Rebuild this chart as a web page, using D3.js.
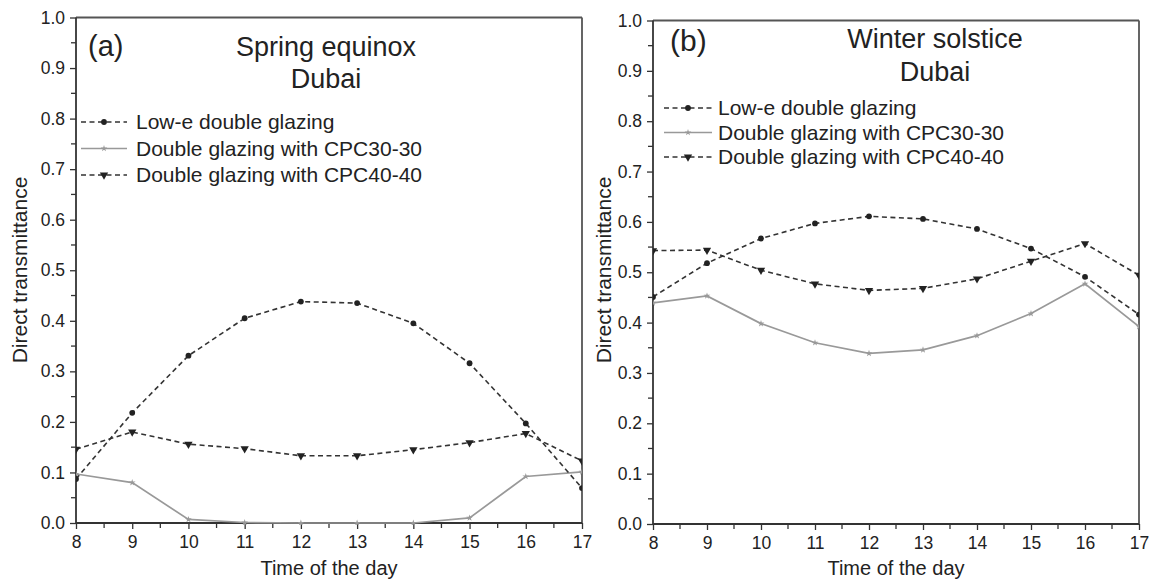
<!DOCTYPE html>
<html><head><meta charset="utf-8">
<script src="https://cdn.jsdelivr.net/npm/d3@7"></script>
<style>body{margin:0;background:#fff}svg{display:block}text{font-family:"Liberation Sans",Arial,sans-serif;fill:#222}</style>
</head><body><svg id="c" width="1152" height="579"></svg>
<script>
const hours = [8, 9, 10, 11, 12, 13, 14, 15, 16, 17];
const seriesNames = ["Low-e double glazing", "Double glazing with CPC30-30", "Double glazing with CPC40-40"];
const springLowE  = [0.087, 0.218, 0.331, 0.405, 0.438, 0.435, 0.395, 0.316, 0.197, 0.069];
const springCPC30 = [0.097, 0.080, 0.007, 0.001, 0.000, 0.000, 0.000, 0.010, 0.092, 0.101];
const springCPC40 = [0.146, 0.180, 0.156, 0.147, 0.133, 0.133, 0.145, 0.159, 0.177, 0.123];
const winterLowE  = [0.451, 0.518, 0.567, 0.597, 0.611, 0.606, 0.586, 0.547, 0.491, 0.416];
const winterCPC30 = [0.439, 0.453, 0.398, 0.360, 0.339, 0.346, 0.374, 0.418, 0.477, 0.392];
const winterCPC40 = [0.543, 0.544, 0.504, 0.477, 0.464, 0.468, 0.487, 0.522, 0.557, 0.494];
const yTicks = [0, 0.1, 0.2, 0.3, 0.4, 0.5, 0.6, 0.7, 0.8, 0.9, 1.0];
const xTicks = hours;
const panelLabels = ["(a)", "(b)"];
const panelTitles = [["Spring equinox", "Dubai"], ["Winter solstice", "Dubai"]];
const xTitle = "Time of the day";
const yTitle = "Direct transmittance";

const svg = d3.select("#c");

const panels = [
  {x0: 76, x1: 582, y0: 17.5, y1: 523, data: [springLowE, springCPC30, springCPC40],
   lab: [88, 56], title: [326, 56, 88], leg: [81, 127, 136, 122, 26.5], yt: 20, fs: 21, tfs: 27, lfs: 29},
  {x0: 653, x1: 1139, y0: 20.5, y1: 524, data: [winterLowE, winterCPC30, winterCPC40],
   lab: [670, 51], title: [935, 48, 81], leg: [664, 712, 718, 108, 24.5], yt: 604, fs: 21, tfs: 27, lfs: 30}
];

const styles = [
  {stroke: "#333", dash: "5,3.5", width: 1.6, marker: "circle"},
  {stroke: "#999", dash: null, width: 1.7, marker: "star"},
  {stroke: "#333", dash: "5,3.5", width: 1.6, marker: "tri"}
];

function drawMarker(g, type, x, y) {
  if (type === "circle") {
    g.append("circle").attr("cx", x).attr("cy", y).attr("r", 2.9).attr("fill", "#222");
  } else if (type === "tri") {
    g.append("path").attr("d", d3.symbol(d3.symbolTriangle, 30)()).attr("transform", `translate(${x},${y}) rotate(180)`).attr("fill", "#222");
  } else {
    g.append("path").attr("d", d3.symbol(d3.symbolStar, 14)()).attr("transform", `translate(${x},${y})`).attr("fill", "#999");
  }
}

panels.forEach((p, pi) => {
  const x = d3.scaleLinear().domain([8, 17]).range([p.x0, p.x1]);
  const y = d3.scaleLinear().domain([0, 1]).range([p.y1, p.y0]);
  const g = svg.append("g");

  const clipId = "clip" + pi;
  svg.append("clipPath").attr("id", clipId).append("rect")
    .attr("x", p.x0).attr("y", p.y0 - 2).attr("width", p.x1 - p.x0).attr("height", p.y1 - p.y0 + 4);

  g.append("line").attr("x1", p.x0).attr("x2", p.x1).attr("y1", p.y0).attr("y2", p.y0).attr("stroke", "#555").attr("stroke-width", 1.8);
  g.append("line").attr("x1", p.x1).attr("x2", p.x1).attr("y1", p.y0).attr("y2", p.y1).attr("stroke", "#555").attr("stroke-width", 1.8);

  const yMinor = d3.range(0.05, 1, 0.1);
  const xMinor = d3.range(8.5, 17, 1);
  g.selectAll(".ym").data(yMinor).join("line").attr("x1", p.x0 - 5).attr("x2", p.x0).attr("y1", d => y(d)).attr("y2", d => y(d)).attr("stroke", "#333").attr("stroke-width", 1.3);
  g.selectAll(".xm").data(xMinor).join("line").attr("y1", p.y1).attr("y2", p.y1 + 5).attr("x1", d => x(d)).attr("x2", d => x(d)).attr("stroke", "#333").attr("stroke-width", 1.3);

  const yAxis = d3.axisLeft(y).tickValues(yTicks).tickFormat(d3.format(".1f")).tickSize(6).tickPadding(5);
  const ya = g.append("g").attr("transform", `translate(${p.x0},0)`).call(yAxis);
  const xAxis = d3.axisBottom(x).tickValues(xTicks).tickFormat(d3.format("d")).tickSize(6).tickPadding(7);
  const xa = g.append("g").attr("transform", `translate(0,${p.y1})`).call(xAxis);
  [ya, xa].forEach(a => {
    a.select(".domain").attr("stroke", "#333").attr("stroke-width", 1.8);
    a.selectAll(".tick line").attr("stroke", "#333").attr("stroke-width", 1.3);
    a.selectAll(".tick text").attr("font-size", 17.5).attr("fill", "#222").attr("font-family", '"Liberation Sans", Arial, sans-serif');
  });
  ya.select(".domain").attr("d", `M0,${p.y1}V${p.y0}`);
  xa.select(".domain").attr("d", `M${p.x0},0H${p.x1}`);

  g.append("text").attr("x", (p.x0 + p.x1) / 2).attr("y", 575).attr("text-anchor", "middle").attr("font-size", 20).text(xTitle);
  g.append("text").attr("transform", `translate(${p.yt},270) rotate(-90)`).attr("text-anchor", "middle").attr("dy", "0.35em").attr("font-size", 21).text(yTitle);

  const dg = g.append("g").attr("clip-path", `url(#${clipId})`);
  [1, 2, 0].forEach(si => {
    const st = styles[si];
    const vals = p.data[si];
    const line = d3.line().x((d, i) => x(hours[i])).y(d => y(d));
    dg.append("path").attr("d", line(vals)).attr("fill", "none").attr("stroke", st.stroke).attr("stroke-width", st.width).attr("stroke-dasharray", st.dash);
    vals.forEach((v, i) => drawMarker(dg, st.marker, x(hours[i]), y(v)));
  });

  g.append("text").attr("x", p.lab[0]).attr("y", p.lab[1]).attr("font-size", p.lfs).text(panelLabels[pi]);
  g.append("text").attr("x", p.title[0]).attr("y", p.title[1]).attr("text-anchor", "middle").attr("font-size", p.tfs).text(panelTitles[pi][0]);
  g.append("text").attr("x", p.title[0]).attr("y", p.title[2]).attr("text-anchor", "middle").attr("font-size", p.tfs).text(panelTitles[pi][1]);

  const [lx0, lx1, tx, ly0, dy] = p.leg;
  seriesNames.forEach((name, si) => {
    const st = styles[si];
    const ly = ly0 + si * dy;
    g.append("line").attr("x1", lx0).attr("x2", lx1).attr("y1", ly).attr("y2", ly).attr("stroke", st.stroke).attr("stroke-width", st.width).attr("stroke-dasharray", st.dash);
    drawMarker(g, st.marker, (lx0 + lx1) / 2, ly);
    g.append("text").attr("x", tx).attr("y", ly).attr("dy", "0.35em").attr("font-size", p.fs).text(name);
  });
});
</script></body></html>
